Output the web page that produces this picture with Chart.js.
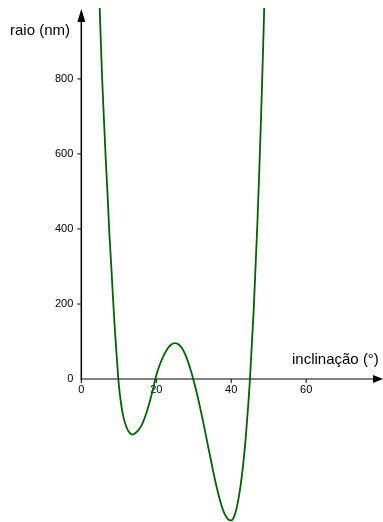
<!DOCTYPE html>
<html>
<head>
<meta charset="utf-8">
<script src="https://cdn.jsdelivr.net/npm/chart.js@4/dist/chart.umd.min.js"></script>
<style>
  body { margin: 0; background: #fff; }
  #wrap { width: 383px; height: 522px; position: relative; }
</style>
</head>
<body>
<div id="wrap"><canvas id="myChart"></canvas></div>
<script>
// inclinação (°) and raio (nm)
const inclinacao = [4.8, 5, 5.5, 6, 6.5, 7, 7.5, 8, 8.5, 9, 9.5, 10, 11, 12, 13, 13.7, 14, 15, 16, 17,
    18, 19, 20, 21, 22, 23, 24, 25, 26, 27, 28, 29, 30, 31, 32, 33, 34, 35, 36, 37,
    38, 39, 40, 41, 42, 43, 44, 45, 46, 47, 47.5, 48, 48.5, 49];
const raio = [1020, 960, 815, 700, 590, 492, 385, 300, 208, 124, 52, -14, -90, -127, -145, -148, -147, -139, -125, -101,
    -70, -32, 10, 40, 63, 81, 92, 96, 92, 80, 59, 30, -5, -45, -90, -138, -188, -237, -283, -323,
    -354, -372, -377, -360, -316, -245, -140, 0, 185, 420, 560, 710, 880, 1060];

const xTicks = [0, 20, 40, 60];
const yTicks = [0, 200, 400, 600, 800];

const points = inclinacao.map((x, i) => ({ x: x, y: raio[i] }));

// positive half-axes from the origin, with arrow heads
const originAxes = {
    id: 'originAxes',
    beforeDatasetsDraw(chart) {
        const ctx = chart.ctx;
        const xs = chart.scales.x;
        const ys = chart.scales.y;
        const x0 = xs.getPixelForValue(0);
        const y0 = ys.getPixelForValue(0);
        const w = chart.width;
        ctx.save();

        // x axis
        ctx.strokeStyle = '#808080';
        ctx.lineWidth = 2;
        ctx.beginPath();
        ctx.moveTo(x0, y0);
        ctx.lineTo(w - 8, y0);
        ctx.stroke();
        ctx.fillStyle = '#000';
        ctx.beginPath();
        ctx.moveTo(w, y0);
        ctx.lineTo(w - 10, y0 - 4);
        ctx.lineTo(w - 10, y0 + 4);
        ctx.closePath();
        ctx.fill();

        // y axis
        ctx.strokeStyle = '#000';
        ctx.lineWidth = 1.5;
        ctx.beginPath();
        ctx.moveTo(x0, y0 + 1);
        ctx.lineTo(x0, 18);
        ctx.stroke();
        ctx.beginPath();
        ctx.moveTo(x0, 9);
        ctx.lineTo(x0 - 4, 22);
        ctx.lineTo(x0 + 4, 22);
        ctx.closePath();
        ctx.fill();

        ctx.font = '11px "Liberation Sans", Arial, sans-serif';
        ctx.fillStyle = '#000';
        ctx.lineWidth = 1;

        // x ticks
        ctx.textAlign = 'center';
        ctx.textBaseline = 'middle';
        xTicks.forEach(v => {
            const px = xs.getPixelForValue(v);
            ctx.beginPath();
            ctx.moveTo(px, y0);
            ctx.lineTo(px, y0 + 4);
            ctx.stroke();
            ctx.fillText(String(v), px, y0 + 11);
        });

        // y ticks
        ctx.textAlign = 'right';
        yTicks.forEach(v => {
            const py = ys.getPixelForValue(v);
            if (v !== 0) {
                ctx.beginPath();
                ctx.moveTo(x0 - 4, py);
                ctx.lineTo(x0, py);
                ctx.stroke();
            }
            ctx.fillText(String(v), x0 - 8, py);
        });

        // axis titles
        ctx.font = '15px "Liberation Sans", Arial, sans-serif';
        ctx.textAlign = 'left';
        ctx.textBaseline = 'alphabetic';
        ctx.fillText('raio (nm)', 10, 35);
        ctx.fillText('inclinação (°)', 292, 364);
        ctx.restore();
    }
};

const ctx = document.getElementById('myChart').getContext('2d');
const myChart = new Chart(ctx, {
    type: 'scatter',
    data: {
        datasets: [{
            data: points,
            showLine: true,
            borderColor: '#006400',
            borderWidth: 1.8,
            pointRadius: 0,
            cubicInterpolationMode: 'monotone'
        }]
    },
    options: {
        responsive: true,
        maintainAspectRatio: false,
        animation: false,
        layout: { padding: { top: 8, left: 0, right: 0, bottom: 0 } },
        plugins: {
            legend: { display: false },
            tooltip: { enabled: false }
        },
        scales: {
            x: { type: 'linear', min: -21.7, max: 80.5, display: false },
            y: { type: 'linear', min: -381, max: 989, display: false }
        }
    },
    plugins: [originAxes]
});
</script>
</body>
</html>
